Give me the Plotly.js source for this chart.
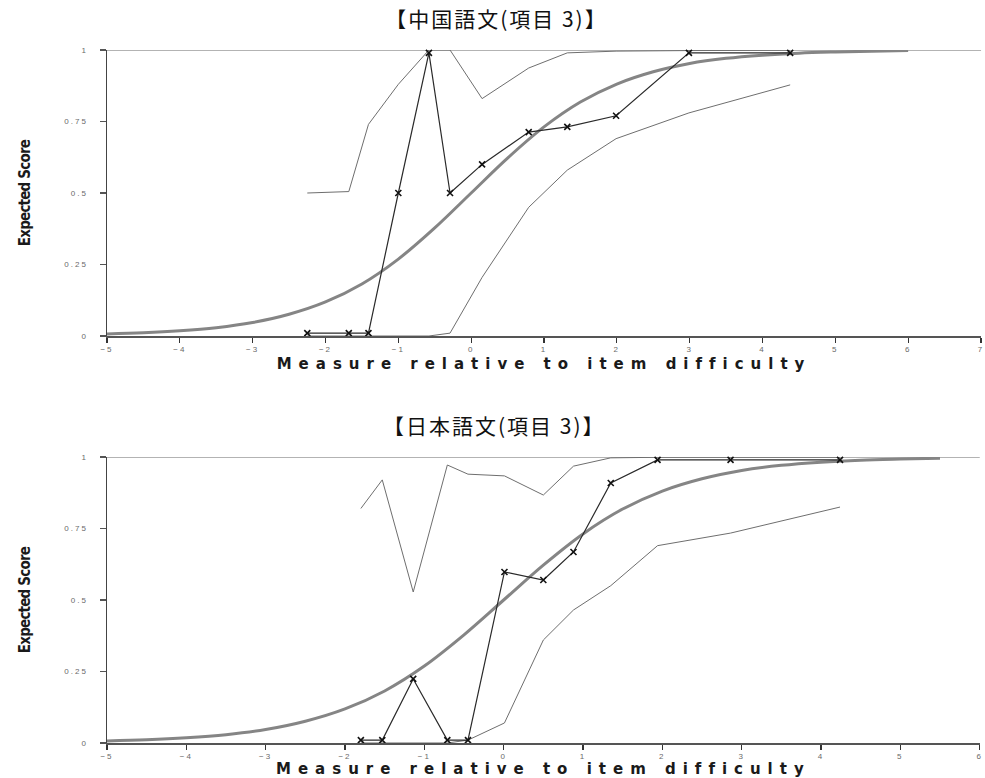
<!DOCTYPE html>
<html>
<head>
<meta charset="utf-8">
<script src="https://cdn.plot.ly/plotly-3.0.1.min.js"></script>
<style>
  html, body { margin: 0; padding: 0; background: #fff; }
  #chart { width: 985px; height: 778px; }
  .xtitle, .x2title { letter-spacing: 7px; }
  .ytitle, .y2title { letter-spacing: -0.8px; }
  .gtitle, .annotation-text { letter-spacing: 2px; }
  .xtick text, .x2tick text, .ytick text, .y2tick text { letter-spacing: 2px; }
</style>
</head>
<body>
<div id="chart"></div>
<script>
// ---- Data ----
// Model (expected score) curve, shared by both panels
const modelX = [-5, -4.5, -4, -3.5, -3, -2.5, -2, -1.5, -1, -0.5, 0, 0.5, 1, 1.5, 2, 2.5, 3, 3.5, 4, 4.5, 5, 5.5, 6];
const modelY = [0.007, 0.011, 0.018, 0.029, 0.047, 0.076, 0.119, 0.182, 0.269, 0.378, 0.5, 0.622, 0.731, 0.818, 0.881, 0.924, 0.953, 0.971, 0.982, 0.989, 0.993, 0.996, 0.998];

// 【中国語文(項目 3)】
const zhX      = [-2.25, -1.68, -1.41, -1.0, -0.58, -0.29, 0.15, 0.79, 1.32, 1.99, 2.99, 4.38];
const zhEmp    = [0.01, 0.01, 0.01, 0.5, 0.99, 0.5, 0.6, 0.713, 0.731, 0.77, 0.99, 0.99];
const zhUpper  = [0.5, 0.505, 0.74, 0.88, 1.0, 1.0, 0.83, 0.937, 0.99, 0.996, 0.998, 0.999];
const zhLower  = [0.0, 0.0, 0.0, 0.0, 0.0, 0.01, 0.205, 0.45, 0.58, 0.69, 0.78, 0.878];

// 【日本語文(項目 3)】
const jaX      = [-1.8, -1.53, -1.14, -0.71, -0.45, 0.01, 0.5, 0.88, 1.35, 1.94, 2.86, 4.24];
const jaEmp    = [0.01, 0.01, 0.224, 0.01, 0.01, 0.598, 0.57, 0.668, 0.909, 0.99, 0.99, 0.99];
const jaUpper  = [0.82, 0.92, 0.528, 0.972, 0.94, 0.934, 0.867, 0.968, 0.997, 0.999, 0.999, 0.999];
const jaLower  = [0.0, 0.0, 0.0, 0.0, 0.01, 0.07, 0.36, 0.465, 0.55, 0.69, 0.734, 0.825];

const titles = ['【中国語文(項目 3)】', '【日本語文(項目 3)】'];
const xTitle = 'Measure relative to item difficulty';
const yTitle = 'Expected Score';
const yTicks = [0, 0.25, 0.5, 0.75, 1];
const yTickText = ['0', '0.25', '0.5', '0.75', '1'];

// ---- Traces ----
function panel(xs, emp, up, lo, mx, my, xa, ya) {
  const band = { color: '#6e6e6e', width: 1 };
  return [
    { x: xs, y: up, xaxis: xa, yaxis: ya, type: 'scatter', mode: 'lines', line: band, showlegend: false },
    { x: xs, y: lo, xaxis: xa, yaxis: ya, type: 'scatter', mode: 'lines', line: band, showlegend: false },
    { x: mx, y: my, xaxis: xa, yaxis: ya, type: 'scatter', mode: 'lines', line: { color: '#858585', width: 3, shape: 'spline', smoothing: 1 }, showlegend: false },
    { x: xs, y: emp, xaxis: xa, yaxis: ya, type: 'scatter', mode: 'lines+markers',
      line: { color: '#2a2a2a', width: 1.2 },
      marker: { symbol: 'x-thin-open', size: 6, color: '#111', line: { color: '#111', width: 1.6 } },
      cliponaxis: false, showlegend: false }
  ];
}

const data = [].concat(
  panel(zhX, zhEmp, zhUpper, zhLower, modelX, modelY, 'x', 'y'),
  panel(jaX, jaEmp, jaUpper, jaLower, modelX.slice(0, -1), modelY.slice(0, -1), 'x2', 'y2')
);

const tickFont = { family: 'Liberation Sans, Arial, sans-serif', size: 8, color: '#6a6a6a' };
const xTitleFont = { family: 'DejaVu Sans, sans-serif', size: 15, color: '#1a1a1a', weight: 'bold' };
const yTitleFont = { family: 'Liberation Sans Narrow, DejaVu Sans Condensed, sans-serif', size: 15, color: '#1a1a1a', weight: 'bold' };
const titleFont = { family: 'Noto Sans CJK JP, sans-serif', size: 21, color: '#111' };

function xAxis(domain, range, anchor) {
  return {
    domain: domain, range: range, anchor: anchor, dtick: 1, tick0: 0,
    showgrid: false, zeroline: false, showline: true, linecolor: '#555', linewidth: 1.5,
    ticks: 'outside', ticklen: 5, tickwidth: 1.2, tickcolor: '#333', tickfont: tickFont,
    ticklabeloverflow: 'allow',
    title: { text: xTitle, font: xTitleFont, standoff: 5 }
  };
}
function yAxis(domain, anchor) {
  return {
    domain: domain, range: [0, 1], anchor: anchor,
    tickvals: yTicks, ticktext: yTickText,
    showgrid: false, zeroline: false, showline: true, linecolor: '#444', linewidth: 1.5,
    ticks: 'outside', ticklen: 6, tickwidth: 1.2, tickcolor: '#555', tickfont: tickFont,
    ticklabelstandoff: 10,
    title: { text: yTitle, font: yTitleFont, standoff: 30 }
  };
}

const layout = {
  width: 985, height: 778,
  paper_bgcolor: '#fff', plot_bgcolor: '#fff',
  margin: { l: 107, r: 0, t: 50, b: 35 },
  showlegend: false,
  title: { text: titles[0], x: 0.504, xref: 'container', xanchor: 'center', y: 0.975, yref: 'container', yanchor: 'middle', font: titleFont },
  xaxis: xAxis([0, 0.9955], [-5, 7.001], 'y'),
  yaxis: yAxis([0.5873, 1], 'x'),
  xaxis2: xAxis([0, 0.994], [-5, 6.001], 'y2'),
  yaxis2: yAxis([0, 0.4127], 'x2'),
  annotations: [
    { text: titles[1], xref: 'paper', yref: 'paper', x: 0.4417, y: 0.4588, xanchor: 'center', yanchor: 'middle', showarrow: false, font: titleFont }
  ],
  shapes: [
    { type: 'line', xref: 'x domain', yref: 'y', x0: -0.008, x1: 1, y0: 1, y1: 1, line: { color: '#9a9a9a', width: 1.5 }, layer: 'below' },
    { type: 'line', xref: 'x2 domain', yref: 'y2', x0: -0.008, x1: 1, y0: 1, y1: 1, line: { color: '#9a9a9a', width: 1.5 }, layer: 'below' }
  ]
};

Plotly.newPlot('chart', data, layout, { displayModeBar: false, staticPlot: true });
</script>
</body>
</html>
